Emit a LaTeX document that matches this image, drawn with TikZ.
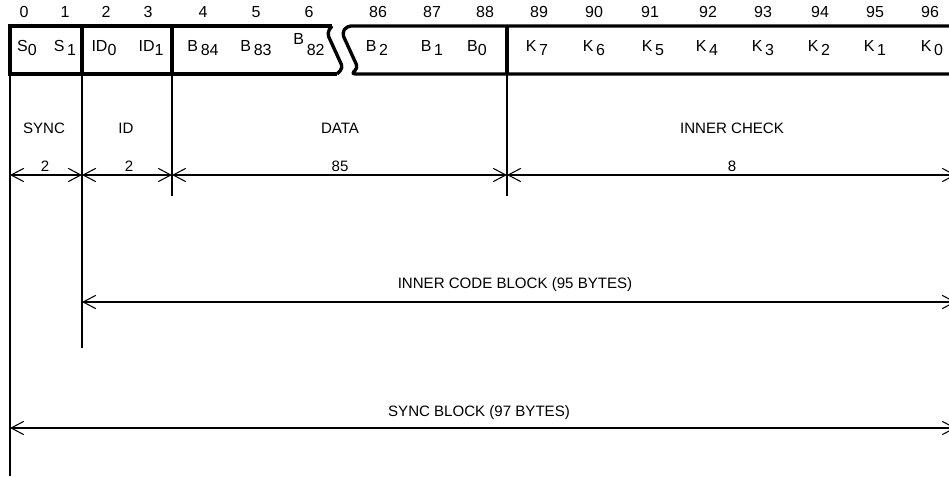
\documentclass[tikz,border=0pt]{standalone}
\usepackage{fontspec}
\setmainfont{Liberation Sans}
\usetikzlibrary{arrows.meta}
\newcommand{\sbx}[1]{\raisebox{-2.8pt}{#1}}
\begin{document}
\begin{tikzpicture}[x=0.75pt,y=-0.75pt,
  thickline/.style={line width=2.5pt},
  thinline/.style={line width=0.8pt},
  dimline/.style={line width=0.8pt,{Straight Barb[length=9.5pt,width=10pt]}-{Straight Barb[length=9.5pt,width=10pt]}},
  txt/.style={inner sep=0pt,anchor=base,font=\fontsize{12}{14}\selectfont},
  lbl/.style={inner sep=0pt,anchor=center,font=\fontsize{11.3}{13}\selectfont}]
\path[use as bounding box,clip] (0,0) rectangle (949,477);
\fill[white] (0,0) rectangle (949,477);
% header numbers
\foreach \n/\x in {0/24,1/65,2/106,3/148,4/203,5/256,6/309,86/378,87/432,88/485,89/539,90/594,91/650,92/708,93/763,94/820,95/875,96/930}
  \node[txt] (h\n) at (\x,18) {\n};
% box outline
\draw[thickline,line join=miter] (332,26) -- (10,26) -- (10,74) -- (337,74);
\draw[thickline,line join=round,rounded corners=3pt] (332,26) -- (327,33) -- (343,68) -- (337,74);
\draw[thickline,line join=round,rounded corners=3pt] (960,26) -- (347,26) -- (342,33) -- (358,68) -- (351,74) -- (960,74);
\draw[thickline] (82,26) -- (82,74);
\draw[thickline] (172,26) -- (172,74);
\draw[thickline] (507,26) -- (507,74);
% box texts
\node[txt] (s0) at (27,52) {S\sbx{0}};
\node[txt] (s1) at (65,52) {S\,\sbx{1}};
\node[txt] (id0) at (104,52) {ID\sbx{0}};
\node[txt] (id1) at (151,52) {ID\sbx{1}};
\node[txt] (b84) at (203,52) {B\,\sbx{84}};
\node[txt] (b83) at (256,52) {B\,\sbx{83}};
\node[txt] (b82) at (309,52) {\raisebox{5.5pt}{B}\,\sbx{82}};
\node[txt] (b2) at (377,52) {B\,\sbx{2}};
\node[txt] (b1) at (432,52) {B\,\sbx{1}};
\node[txt] (b0) at (477,52) {B\sbx{0}};
\foreach \k/\x in {7/537,6/594,5/653,4/707,3/763,2/819,1/875,0/932}
  \node[txt] (k\k) at (\x,52) {K\,\sbx{\k}};
% vertical extension lines
\coordinate (v0t) at (10,74);  \coordinate (v0b) at (10,476);
\coordinate (v1t) at (82,74);  \coordinate (v1b) at (82,348);
\coordinate (v2t) at (172,74); \coordinate (v2b) at (172,196);
\coordinate (v3t) at (507,74); \coordinate (v3b) at (507,196);
\draw[thinline] (v0t) -- (v0b);
\draw[thinline] (v1t) -- (v1b);
\draw[thinline] (v2t) -- (v2b);
\draw[thinline] (v3t) -- (v3b);
% field labels
\node[lbl] (lsync) at (44,128) {SYNC};
\node[lbl] (lid) at (126,128) {ID};
\node[lbl] (ldata) at (340,128) {DATA};
\node[lbl] (lcheck) at (732,128) {INNER CHECK};
% dimension arrows
\coordinate (d0) at (10,175);
\coordinate (d1) at (82,175);
\coordinate (d2) at (172,175);
\coordinate (d3) at (507,175);
\coordinate (d4) at (956,175);
\draw[dimline] (d0) -- (d1);
\draw[dimline] (d1) -- (d2);
\draw[dimline] (d2) -- (d3);
\draw[dimline] (d3) -- (d4);
\node[lbl] (n1) at (45,166) {2};
\node[lbl] (n2) at (129,166) {2};
\node[lbl] (n3) at (340,166) {85};
\node[lbl] (n4) at (732,166) {8};
% inner code block
\coordinate (ic0) at (82,302);
\coordinate (ic1) at (956,302);
\draw[dimline] (ic0) -- (ic1);
\node[lbl] (icl) at (515,285) {INNER CODE BLOCK (95 BYTES)};
% sync block
\coordinate (sb0) at (10,428);
\coordinate (sb1) at (956,428);
\draw[dimline] (sb0) -- (sb1);
\node[lbl] (sbl) at (479,413) {SYNC BLOCK (97 BYTES)};
\end{tikzpicture}
\end{document}
